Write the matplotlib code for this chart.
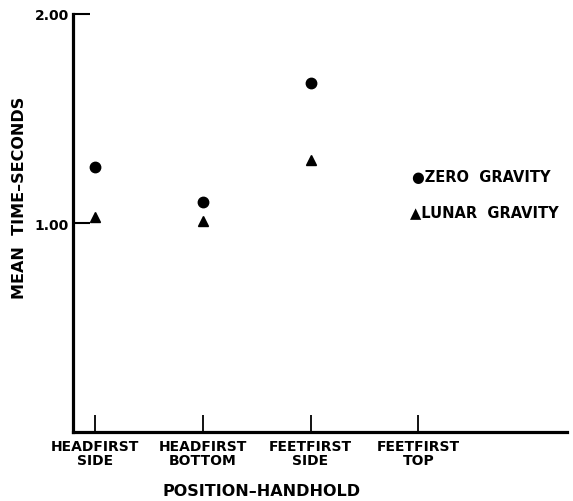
import matplotlib
matplotlib.use('Agg')
from matplotlib import pyplot as plt

positions = ['HEADFIRST\nSIDE', 'HEADFIRST\nBOTTOM', 'FEETFIRST\nSIDE', 'FEETFIRST\nTOP']
zero_x = [1, 2, 3]
zero_gravity = [1.27, 1.10, 1.67]
lunar_x = [1, 2, 3]
lunar_gravity = [1.03, 1.01, 1.30]
y_ticks = [1.0, 2.0]
y_tick_labels = ['1.00', '2.00']

plt.rcParams['font.family'] = ['DejaVu Sans']
plt.rcParams['font.weight'] = 'bold'

W, H = 573, 502
fig = plt.figure(figsize=(W / 100, H / 100), dpi=100)
left, right, top, bottom = 73, 567, 15, 433
ax = fig.add_axes([left / W, 1 - bottom / H, (right - left) / W, (bottom - top) / H])

ax.plot(zero_x, zero_gravity, 'o', color='black', markersize=7.5, clip_on=False)
ax.plot(lunar_x, lunar_gravity, '^', color='black', markersize=7.5, clip_on=False)

ax.set_xlim(0.796, 5.38)
ax.set_ylim(0.0, 2.0)

for side in ['top', 'right']:
    ax.spines[side].set_visible(False)
for side in ['left', 'bottom']:
    ax.spines[side].set_linewidth(2.3)

ax.set_xticks(range(1, len(positions) + 1))
ax.set_xticklabels(positions, fontsize=10, fontweight='bold', linespacing=1.05)
ax.set_yticks(y_ticks)
ax.set_yticklabels(y_tick_labels, fontsize=10, fontweight='bold')
ax.tick_params(axis='x', direction='in', length=12, width=1.3, pad=5)
ax.tick_params(axis='y', direction='in', length=12, width=1.5, pad=3)

ax.set_xlabel('POSITION–HANDHOLD', fontsize=11.5, fontweight='bold')
ax.xaxis.set_label_coords((262 - left) / (right - left), -(492 - bottom) / (bottom - top), transform=ax.transAxes)
ax.xaxis.label.set_verticalalignment('center')
ax.set_ylabel('MEAN  TIME–SECONDS', fontsize=11.5, fontweight='bold')
ax.yaxis.set_label_coords(-(left - 20) / (right - left), (bottom - 198) / (bottom - top), transform=ax.transAxes)
ax.yaxis.label.set_verticalalignment('center')

ax.text((412 - left) / (right - left), (bottom - 177) / (bottom - top), '●ZERO  GRAVITY',
        transform=ax.transAxes, fontsize=10.5, fontweight='bold', va='center', ha='left')
ax.text((410 - left) / (right - left), (bottom - 213) / (bottom - top), '▲LUNAR  GRAVITY',
        transform=ax.transAxes, fontsize=10.5, fontweight='bold', va='center', ha='left')

fig.savefig('out.png', dpi=100)
